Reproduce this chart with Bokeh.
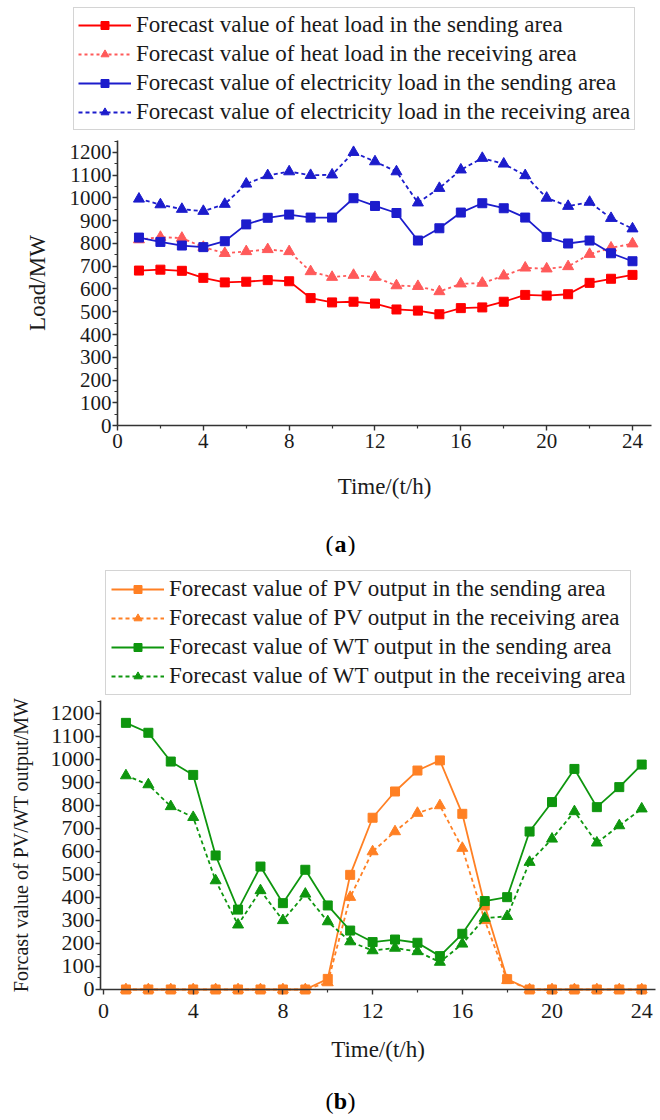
from bokeh.plotting import figure
from bokeh.layouts import column
from bokeh.models import Legend, LegendItem, Label, FixedTicker, Range1d
from bokeh.embed import file_html
from bokeh.resources import INLINE

# ---------------- data ----------------
hours = list(range(1, 25))
x_ticks = [0, 4, 8, 12, 16, 20, 24]
x_minor = [2, 6, 10, 14, 18, 22]
y_ticks = list(range(0, 1201, 100))
y_minor = list(range(50, 1251, 100))

heat_send = [681, 685, 680, 649, 629, 632, 639, 634, 560, 541, 544, 536,
             510, 505, 489, 516, 519, 544, 574, 571, 577, 627, 645, 662]
heat_recv = [817, 828, 824, 784, 757, 765, 774, 765, 677, 652, 661, 652,
             615, 612, 589, 623, 626, 658, 693, 689, 699, 753, 781, 799]
elec_send = [826, 807, 791, 784, 810, 884, 913, 927, 914, 914, 999, 965,
             934, 813, 867, 936, 977, 955, 914, 829, 800, 813, 757, 722]
elec_recv = [996, 971, 951, 942, 973, 1062, 1099, 1116, 1100, 1102, 1201, 1160,
             1116, 979, 1043, 1124, 1175, 1150, 1099, 1000, 964, 982, 911, 865]

pv_send = [0, 0, 0, 0, 0, 0, 0, 0, 0, 46, 498, 746,
           860, 951, 995, 763, 365, 45, 0, 0, 0, 0, 0, 0]
pv_recv = [0, 0, 0, 0, 0, 0, 0, 0, 0, 30, 401, 599,
           686, 766, 799, 614, 300, 40, 0, 0, 0, 0, 0, 0]
wt_send = [1158, 1115, 990, 932, 582, 347, 534, 375, 520, 365, 256, 206,
           217, 203, 145, 242, 384, 401, 686, 814, 958, 792, 879, 977]
wt_recv = [929, 890, 795, 748, 473, 281, 430, 300, 415, 295, 208, 169,
           180, 165, 119, 198, 310, 318, 553, 654, 773, 637, 712, 785]

labels_a = ["Forecast value of heat load in the sending area",
            "Forecast value of heat load in the receiving area",
            "Forecast value of electricity load in the sending area",
            "Forecast value of electricity load in the receiving area"]
labels_b = ["Forecast value of PV output in the sending area",
            "Forecast value of PV output in the receiving area",
            "Forecast value of WT output in the sending area",
            "Forecast value of WT output in the receiving area"]

FONT = "Liberation Serif"
TXT = "#1a1a1a"


def style(p, y_axis_x, x_bounds, y_bounds, tick_std_x, lab_std_x, lab_std_y,
          tick_fs, xlab_fs, ylab_fs):
    p.outline_line_color = None
    p.xgrid.visible = False
    p.ygrid.visible = False
    xa, ya = p.xaxis[0], p.yaxis[0]
    xa.ticker = FixedTicker(ticks=x_ticks, minor_ticks=x_minor)
    ya.ticker = FixedTicker(ticks=y_ticks, minor_ticks=y_minor)
    xa.fixed_location = 0
    ya.fixed_location = y_axis_x
    xa.bounds = x_bounds
    ya.bounds = y_bounds
    for ax in (xa, ya):
        ax.axis_line_color = "#333333"
        ax.axis_line_width = 1.6
        ax.major_tick_line_color = "#333333"
        ax.minor_tick_line_color = "#333333"
        ax.major_tick_line_width = 1.4
        ax.minor_tick_line_width = 1.2
        ax.major_tick_in = 0
        ax.major_tick_out = 5
        ax.minor_tick_in = 0
        ax.minor_tick_out = 3
        ax.major_label_text_font = FONT
        ax.major_label_text_font_size = tick_fs
        ax.major_label_text_color = TXT
        ax.axis_label_text_font = FONT
        ax.axis_label_text_font_style = "normal"
        ax.axis_label_text_color = TXT
    xa.axis_label_text_font_size = xlab_fs
    ya.axis_label_text_font_size = ylab_fs
    xa.major_label_standoff = tick_std_x
    ya.major_label_standoff = 1
    xa.axis_label_standoff = lab_std_x
    ya.axis_label_standoff = lab_std_y


def series(p, ys, color, dash, marker, size):
    ln = p.line(hours, ys, line_color=color, line_width=1.8, line_dash=dash)
    sc = p.scatter(hours, ys, marker=marker, size=size, fill_color=color,
                   line_color=color)
    return [ln, sc]


def make_legend(items, loc, fs, spacing, padding):
    lg = Legend(items=items, location=loc)
    lg.label_text_font = FONT
    lg.label_text_font_size = fs
    lg.label_text_color = TXT
    lg.glyph_width = 53
    lg.glyph_height = 20
    lg.label_standoff = 5
    lg.padding = padding
    lg.spacing = spacing
    lg.margin = 0
    lg.border_line_color = "#AAAAAA"
    lg.border_line_width = 1.5
    lg.background_fill_color = "white"
    lg.background_fill_alpha = 1
    return lg


def caption(p, x, y, letter):
    common = dict(x_units="screen", y_units="screen", text_baseline="middle",
                  text_font=FONT, text_font_size="24px", text_color="black")
    p.add_layout(Label(x=x - 7, y=y, text="(", text_align="right", **common))
    p.add_layout(Label(x=x, y=y, text=letter, text_align="center",
                       text_font_style="bold", **common))
    p.add_layout(Label(x=x + 7, y=y, text=")", text_align="left", **common))


# ---------------- chart (a) ----------------
pa = figure(width=660, height=556, min_border=0,
            x_range=Range1d(-5.4525, 25.305), y_range=Range1d(-575.8, 1868.1),
            output_backend="svg", toolbar_location=None,
            x_axis_label="Time/(t/h)", y_axis_label="Load/MW")
style(pa, 0, (0, 24.89), (0, 1253), 3, 23, 17, "21px", "23px", "23px")

ra = [
    series(pa, heat_send, "#FF0000", "solid", "square", 9),
    series(pa, heat_recv, "#FF5A5A", "3 3", "triangle", 11),
    series(pa, elec_send, "#1C1CCC", "solid", "square", 9),
    series(pa, elec_recv, "#1C1CCC", "4 3", "triangle", 11),
]
items_a = [LegendItem(label=l, renderers=r) for l, r in zip(labels_a, ra)]
pa.add_layout(make_legend(items_a, (73, 426), "23px", 3, 4))
caption(pa, 340, 13, "a")

# ---------------- chart (b) ----------------
pb = figure(width=660, height=560, min_border=0,
            x_range=Range1d(-4.593, 24.838), y_range=Range1d(-551.6, 1880.6),
            output_backend="svg", toolbar_location=None,
            x_axis_label="Time/(t/h)", y_axis_label="Forcast value of PV/WT output/MW")
style(pb, -0.134, (-0.134, 24.6), (0, 1255), 10, 15, 16, "22px", "23px", "20px")

rb = [
    series(pb, pv_send, "#FF8024", "solid", "square", 9),
    series(pb, pv_recv, "#FF8024", "4 3", "triangle", 11),
    series(pb, wt_send, "#0E960E", "solid", "square", 9),
    series(pb, wt_recv, "#0E960E", "4 3", "triangle", 11),
]
items_b = [LegendItem(label=l, renderers=r) for l, r in zip(labels_b, rb)]
pb.add_layout(make_legend(items_b, (105, 421), "23px", 3, 5))
caption(pb, 340, 16, "b")

layout = column(pa, pb, spacing=0)
open("out.html", "w").write(file_html(layout, INLINE))
